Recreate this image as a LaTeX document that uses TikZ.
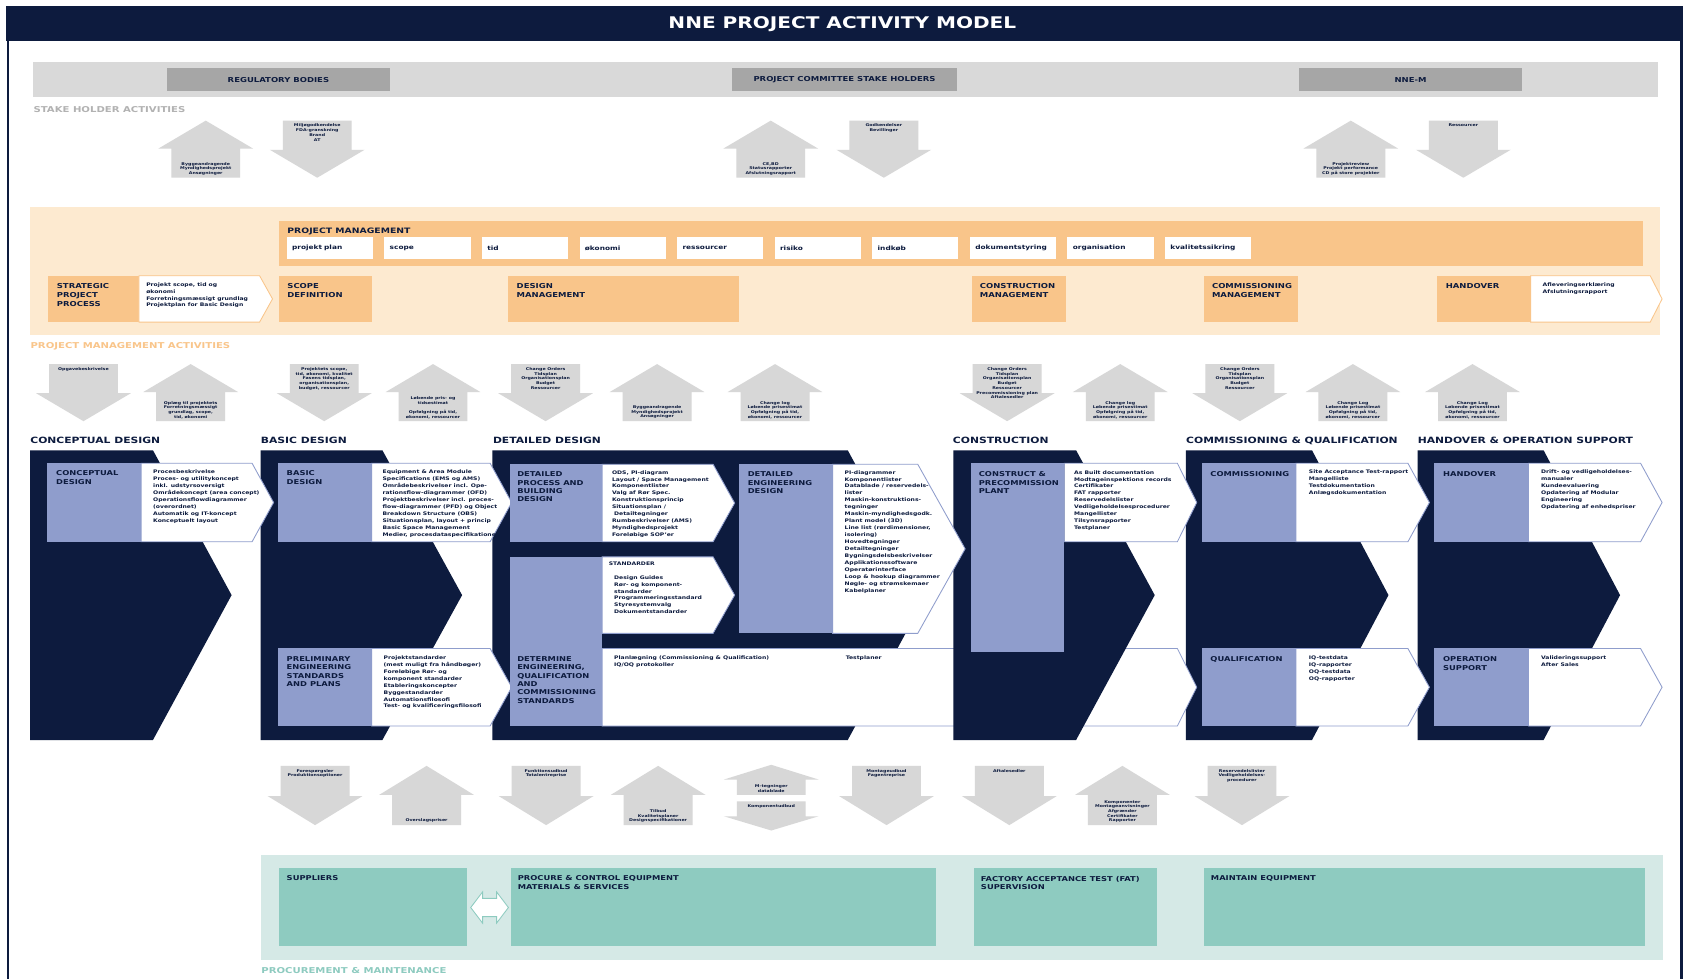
\documentclass[tikz,border=0pt]{standalone}
\usepackage{fontspec}
\setmainfont{DejaVu Sans}[FakeStretch=1.25]
\definecolor{nnenavy}{RGB}{13,27,62}
\definecolor{nnelav}{RGB}{143,157,204}
\definecolor{nnegray}{RGB}{217,217,217}
\definecolor{nnedgray}{RGB}{166,166,166}
\definecolor{nnelgray}{RGB}{178,178,178}
\definecolor{nneorange}{RGB}{249,197,138}
\definecolor{nnelorange}{RGB}{253,234,208}
\definecolor{nneteal}{RGB}{142,203,192}
\definecolor{nnelteal}{RGB}{213,233,230}
\definecolor{arrgray}{RGB}{215,215,215}
\newcommand{\fsz}[2]{\fontsize{#1}{#2}\selectfont}
% block arrows: name, left x, top y, height, text
\newcommand{\uparw}[5]{%
  \fill[arw] (#2+44,#3) -- (#2+88,#3+#4*0.49) -- (#2+76,#3+#4*0.49) -- (#2+76,#3+#4)
    -- (#2+12,#3+#4) -- (#2+12,#3+#4*0.49) -- (#2,#3+#4*0.49) -- cycle;
  \node[arwtext, anchor=south] (#1) at (#2+44,#3+#4-2) {#5};}
\newcommand{\dnarw}[5]{%
  \fill[arw] (#2+12,#3) -- (#2+76,#3) -- (#2+76,#3+#4*0.51) -- (#2+88,#3+#4*0.51)
    -- (#2+44,#3+#4) -- (#2,#3+#4*0.51) -- (#2+12,#3+#4*0.51) -- cycle;
  \node[arwtext, anchor=north] (#1) at (#2+44,#3+3) {#5};}
% white chevron: left, top, right, bottom, tip
\newcommand{\wchev}[6][wchv]{%
  \filldraw[#1] (#2,#3) -- (#4,#3) -- (#6,{(#3+#5)/2}) -- (#4,#5) -- (#2,#5) -- cycle;}
% dark phase chevron: left, right, tip
\newcommand{\navychev}[3]{%
  \fill[navy] (#1,418) -- (#2,418) -- (#3,552.5) -- (#2,687) -- (#1,687) -- cycle;}
\tikzset{
  arw/.style={fill=arrgray},
  arwtext/.style={inner sep=0pt, align=center, text=nnenavy, font=\bfseries\fsz{3.5}{4.4}},
  lbl/.style={anchor=north west, inner sep=0pt, font=\bfseries\fsz{7.5}{8}},
  sbox/.style={fill=nnedgray, text=nnenavy, inner sep=0pt, minimum height=21pt, font=\bfseries\fsz{6.3}{7}},
  pmbox/.style={anchor=north west, fill=white, text=nnenavy, text width=70pt, align=left,
    inner xsep=5pt, inner ysep=0pt, minimum height=20pt, font=\bfseries\fsz{5.5}{6}},
  phttl/.style={anchor=north west, inner sep=0pt, align=left, text=nnenavy, font=\bfseries\fsz{6.3}{8.5}},
  ttl/.style={anchor=north west, inner sep=0pt, align=left, text=nnenavy, font=\bfseries\fsz{6.2}{7.7}},
  txt/.style={anchor=north west, inner sep=0pt, align=left, text=nnenavy, font=\bfseries\fsz{4.5}{6.45}},
  hdr/.style={anchor=north west, inner sep=0pt, text=nnenavy, font=\bfseries\fsz{8}{9}},
  wchv/.style={fill=white, draw=nnelav, line width=0.8pt},
  ochv/.style={fill=white, draw=nneorange, line width=0.8pt},
  lav/.style={fill=nnelav},
  navy/.style={fill=nnenavy},
  tealtxt/.style={anchor=north west, inner sep=0pt, align=left, text=nnenavy, font=\bfseries\fsz{6.2}{7.7}},
}
\begin{document}
\begin{tikzpicture}[x=1pt,y=-1pt]
  \useasboundingbox (0,0) rectangle (1568,909);
  \fill[white] (0,0) rectangle (1568,909);
  % title and frame
  \fill[nnenavy] (6,6) rectangle (1562,38);
  \draw[nnenavy, line width=2.5pt] (7.3,38) -- (7.3,909);
  \draw[nnenavy, line width=2.5pt] (1560.7,38) -- (1560.7,909);
  \node[inner sep=0pt, text=white, font=\bfseries\fsz{14.9}{16}] (title) at (782,22.5) {NNE PROJECT ACTIVITY MODEL};

  % stake holders
  \fill[nnegray] (31,58) rectangle (1539,90);
  \node[sbox, minimum width=207pt] (reg) at (258.5,74) {REGULATORY BODIES};
  \node[sbox, minimum width=208pt] (psh) at (784,74) {PROJECT COMMITTEE STAKE HOLDERS};
  \node[sbox, minimum width=207pt] (nnem) at (1309.5,74) {NNE-M};
  \node[lbl, text=nnelgray] (sha) at (31,98.4) {STAKE HOLDER ACTIVITIES};
  \uparw{sa1}{147}{112}{53}{Byggeandragende\\Myndighedsprojekt\\Ansøgninger}
  \dnarw{sa2}{250.5}{112}{53}{Miljøgodkendelse\\FDA-granskning\\Brand\\AT}
  \uparw{sa3}{671.5}{112}{53}{CE,BD\\Statusrapporter\\Afslutningsrapport}
  \dnarw{sa4}{776.5}{112}{53}{Godkendelser\\Bevillinger}
  \uparw{sa5}{1210}{112}{53}{Projektreview\\Projekt performance\\CD på store projekter}
  \dnarw{sa6}{1314.5}{112}{53}{Ressourcer}

  % project management
  \fill[nnelorange] (28,192) rectangle (1541,311);
  \fill[nneorange] (259,205) rectangle (1525,247);
  \node[anchor=north west, inner sep=0pt, text=nnenavy, font=\bfseries\fsz{6.9}{8}] (pm) at (266.6,211) {PROJECT MANAGEMENT};
  \foreach \t [count=\i from 0] in {projekt plan, scope, tid, økonomi, ressourcer, risiko, indkøb, dokumentstyring, organisation, kvalitetssikring}
    \node[pmbox] (pm\i) at (266+\i*90.6,220) {\t};
  \fill[nneorange] (44.5,256) rectangle (129,299);
  \wchev[ochv]{129}{256}{241}{299}{253}
  \fill[nneorange] (259,256) rectangle (345,299);
  \fill[nneorange] (472,256) rectangle (686,299);
  \fill[nneorange] (902,256) rectangle (990,299);
  \fill[nneorange] (1118,256) rectangle (1205,299);
  \fill[nneorange] (1334,256) rectangle (1421,299);
  \wchev[ochv]{1421}{256}{1532}{299}{1543}
  \node[phttl] (spt) at (52.6,263) {STRATEGIC\\PROJECT\\PROCESS};
  \node[txt] (spx) at (135.6,262) {Projekt scope, tid og\\økonomi\\Forretningsmæssigt grundlag\\Projektplan for Basic Design};
  \node[phttl] (sdt) at (266.6,263) {SCOPE\\DEFINITION};
  \node[phttl] (dmt) at (479.5,263) {DESIGN\\MANAGEMENT};
  \node[phttl] (cmm) at (909.5,263) {CONSTRUCTION\\MANAGEMENT};
  \node[phttl] (cqm) at (1125,263) {COMMISSIONING\\MANAGEMENT};
  \node[phttl] (hvt) at (1342,263) {HANDOVER};
  \node[txt] (hvx) at (1432,262) {Afleveringserklæring\\Afslutningsrapport};
  \node[lbl, text=nneorange] (pma) at (28.2,317.8) {PROJECT MANAGEMENT ACTIVITIES};

  % project management activities
  \dnarw{ma1}{33.5}{338}{53}{Opgavebeskrivelse}
  \uparw{ma2}{133}{338}{53}{Oplæg til projektets\\Forretningsmæssigt\\grundlag, scope,\\tid, økonomi}
  \dnarw{ma3}{257}{338}{53}{Projektets scope,\\tid, økonomi, kvalitet\\Fasens tidsplan,\\organisationsplan,\\budget, ressourcer}
  \uparw{ma4}{358}{338}{53}{Løbende pris- og\\tidsestimat\\[4pt]Opfølgning på tid,\\økonomi, ressourcer}
  \dnarw{ma5}{462.5}{338}{53}{Change Orders\\Tidsplan\\Organisationsplan\\Budget\\Ressourcer}
  \uparw{ma6}{566}{338}{53}{Byggeandragende\\Myndighedsprojekt\\Ansøgninger}
  \uparw{ma7}{675.5}{338}{53}{Change log\\Løbende prisestimat\\Opfølgning på tid,\\økonomi, ressourcer}
  \dnarw{ma8}{891}{338}{53}{Change Orders\\Tidsplan\\Organisationsplan\\Budget\\Ressourcer\\Precommissioning plan\\Aftalesedler}
  \uparw{ma9}{996}{338}{53}{Change log\\Løbende prisestimat\\Opfølgning på tid,\\økonomi, ressourcer}
  \dnarw{ma10}{1107}{338}{53}{Change Orders\\Tidsplan\\Organisationsplan\\Budget\\Ressourcer}
  \uparw{ma11}{1212}{338}{53}{Change Log\\Løbende prisestimat\\Opfølgning på tid,\\økonomi, ressourcer}
  \uparw{ma12}{1323}{338}{53}{Change Log\\Løbende prisestimat\\Opfølgning på tid,\\økonomi, ressourcer}

  % phases
  \node[hdr] (hcd) at (28,405.5) {CONCEPTUAL DESIGN};
  \node[hdr] (hbd) at (242,405.5) {BASIC DESIGN};
  \node[hdr] (hdd) at (457.5,405.5) {DETAILED DESIGN};
  \node[hdr] (hco) at (884.5,405.5) {CONSTRUCTION};
  \node[hdr] (hcq) at (1101,405.5) {COMMISSIONING \& QUALIFICATION};
  \node[hdr] (hho) at (1316,405.5) {HANDOVER \& OPERATION SUPPORT};
  \navychev{28}{142}{215}
  \navychev{242}{355}{429}
  \navychev{457}{787}{860}
  \navychev{1101}{1218}{1289}
  \navychev{1316}{1433}{1504}
  \wchev{559}{602}{1093}{674}{1111}
  \navychev{885}{999}{1072}

  \wchev{131}{430}{234}{503}{254}
  \fill[lav] (44,430) rectangle (131,503);
  \wchev{345}{430}{455}{503}{475}
  \fill[lav] (258,430) rectangle (345,503);
  \wchev{345}{602}{455}{674}{475}
  \fill[lav] (258,602) rectangle (345,674);
  \wchev{559}{431}{662}{503}{682}
  \fill[lav] (473,431) rectangle (559,503);
  \wchev{559}{517}{662}{588}{682}
  \fill[lav] (473,517) rectangle (559,674);
  \wchev{773}{431}{852}{588}{896}
  \fill[lav] (686,431) rectangle (773,588);
  \wchev{988}{430}{1093}{503}{1111}
  \fill[lav] (901,430) rectangle (988,605);
  \wchev{1203}{430}{1307}{503}{1327}
  \fill[lav] (1116,430) rectangle (1203,503);
  \wchev{1203}{602}{1307}{674}{1327}
  \fill[lav] (1116,602) rectangle (1203,674);
  \wchev{1419}{430}{1523}{503}{1543}
  \fill[lav] (1331,430) rectangle (1419,503);
  \wchev{1419}{602}{1523}{674}{1543}
  \fill[lav] (1331,602) rectangle (1419,674);

  \node[ttl] (cdt) at (52,437) {CONCEPTUAL\\DESIGN};
  \node[txt] (cdx) at (142,436) {Procesbeskrivelse\\Proces- og utilitykoncept\\inkl. udstyrsoversigt\\Områdekoncept (area concept)\\Operationsflowdiagrammer\\(overordnet)\\Automatik og IT-koncept\\Konceptuelt layout};
  \node[ttl] (bdt) at (266,437) {BASIC\\DESIGN};
  \node[txt] (bdx) at (355,436) {Equipment \& Area Module\\Specifications (EMS og AMS)\\Områdebeskrivelser incl. Ope-\\rationsflow-diagrammer (OFD)\\Projektbeskrivelser incl. proces-\\flow-diagrammer (PFD) og Object\\Breakdown Structure (OBS)\\Situationsplan, layout + princip\\Basic Space Management\\Medier, procesdataspecifikationer};
  \node[ttl] (pet) at (266,609.5) {PRELIMINARY\\ENGINEERING\\STANDARDS\\AND PLANS};
  \node[txt] (pex) at (356,608.5) {Projektstandarder\\(mest muligt fra håndbøger)\\Foreløbige Rør- og\\komponent standarder\\Etableringskoncepter\\Byggestandarder\\Automationsfilosofi\\Test- og kvalificeringsfilosofi};
  \node[ttl] (dpt) at (480,438) {DETAILED\\PROCESS AND\\BUILDING\\DESIGN};
  \node[txt] (dpx) at (568,436.5) {ODS, PI-diagram\\Layout / Space Management\\Komponentlister\\Valg af Rør Spec.\\Konstruktionsprincip\\Situationsplan /\\\ Detailtegninger\\Rumbeskrivelser (AMS)\\Myndighedsprojekt\\Foreløbige SOP'er};
  \node[txt] (stt) at (565,521) {STANDARDER};
  \node[txt] (stx) at (570,534) {Design Guides\\Rør- og komponent-\\standarder\\Programmeringsstandard\\Styresystemvalg\\Dokumentstandarder};
  \node[ttl] (det) at (480,609.5) {DETERMINE\\ENGINEERING,\\QUALIFICATION\\AND\\COMMISSIONING\\STANDARDS};
  \node[txt] (plx) at (570,608.5) {Planlægning (Commissioning \& Qualification)\\IQ/OQ protokoller};
  \node[txt] (tpx) at (785,608.5) {Testplaner};
  \node[ttl] (edt) at (694,438) {DETAILED\\ENGINEERING\\DESIGN};
  \node[txt] (edx) at (784,436.5) {PI-diagrammer\\Komponentlister\\Datablade / reservedels-\\lister\\Maskin-konstruktions-\\tegninger\\Maskin-myndighedsgodk.\\Plant model (3D)\\Line list (rørdimensioner,\\isolering)\\Hovedtegninger\\Detailtegninger\\Bygningsdelsbeskrivelser\\Applikationssoftware\\Operatørinterface\\Loop \& hookup diagrammer\\Nøgle- og strømskemaer\\Kabelplaner};
  \node[ttl] (cot) at (908.5,438) {CONSTRUCT \&\\PRECOMMISSION\\PLANT};
  \node[txt] (cox) at (997,436.5) {As Built documentation\\Modtageinspektions records\\Certifikater\\FAT rapporter\\Reservedelslister\\Vedligeholdelsesprocedurer\\Mangellister\\Tilsynsrapporter\\Testplaner};
  \node[ttl] (cmt) at (1123.5,438) {COMMISSIONING};
  \node[txt] (cmx) at (1215,436) {Site Acceptance Test-rapport\\Mangelliste\\Testdokumentation\\Anlægsdokumentation};
  \node[ttl] (qut) at (1123.5,609.5) {QUALIFICATION};
  \node[txt] (qux) at (1215,608.5) {IQ-testdata\\IQ-rapporter\\OQ-testdata\\OQ-rapporter};
  \node[ttl] (hot) at (1339.5,438) {HANDOVER};
  \node[txt] (hox) at (1430.5,436) {Drift- og vedligeholdelses-\\manualer\\Kundeevaluering\\Opdatering af Modular\\Engineering\\Opdatering af enhedspriser};
  \node[ttl] (ost) at (1339.5,609.5) {OPERATION\\SUPPORT};
  \node[txt] (osx) at (1430.5,608.5) {Valideringssupport\\After Sales};

  % procurement activities
  \dnarw{ba1}{248.5}{711}{55}{Forespørgsler\\Produktionsoptioner}
  \uparw{ba2}{352}{711}{55}{Overslagspriser}
  \dnarw{ba3}{463}{711}{55}{Funktionsudbud\\Totalentreprise}
  \uparw{ba4}{567}{711}{55}{Tilbud\\Kvalitetsplaner\\Designspecifikationer}
  \uparw{ba5}{672}{710}{28}{M-tegninger\\datablade}
  \dnarw{ba6}{672}{744}{27}{Komponentudbud}
  \dnarw{ba7}{779}{711}{55}{Montageudbud\\Fagentreprise}
  \dnarw{ba8}{893}{711}{55}{Aftalesedler}
  \uparw{ba9}{998}{711}{55}{Komponenter\\Montageanvisninger\\Afgrænder\\Certifikater\\Rapporter}
  \dnarw{ba10}{1109}{711}{55}{Reservedelslister\\Vedligeholdelses-\\procedurer}

  % procurement and maintenance
  \fill[nnelteal] (242,794) rectangle (1544,891);
  \fill[nneteal] (259,806) rectangle (434,878);
  \fill[nneteal] (474,806) rectangle (869,878);
  \fill[nneteal] (904,806) rectangle (1074,878);
  \fill[nneteal] (1118,806) rectangle (1527,878);
  \filldraw[fill=white, draw=nneteal, line width=0.8pt] (437,842.5) -- (448,828) -- (448,834) -- (461,834)
    -- (461,828) -- (472,842.5) -- (461,857) -- (461,851) -- (448,851) -- (448,857) -- cycle;
  \node[tealtxt] (sup) at (266,813) {SUPPLIERS};
  \node[tealtxt] (pce) at (480.5,813) {PROCURE \& CONTROL EQUIPMENT\\MATERIALS \& SERVICES};
  \node[tealtxt] (fat) at (910.5,813) {FACTORY ACCEPTANCE TEST (FAT)\\SUPERVISION};
  \node[tealtxt] (mte) at (1124,813) {MAINTAIN EQUIPMENT};
  \node[lbl, text=nneteal] (pmm) at (242.5,897.6) {PROCUREMENT \& MAINTENANCE};
\end{tikzpicture}
\end{document}
